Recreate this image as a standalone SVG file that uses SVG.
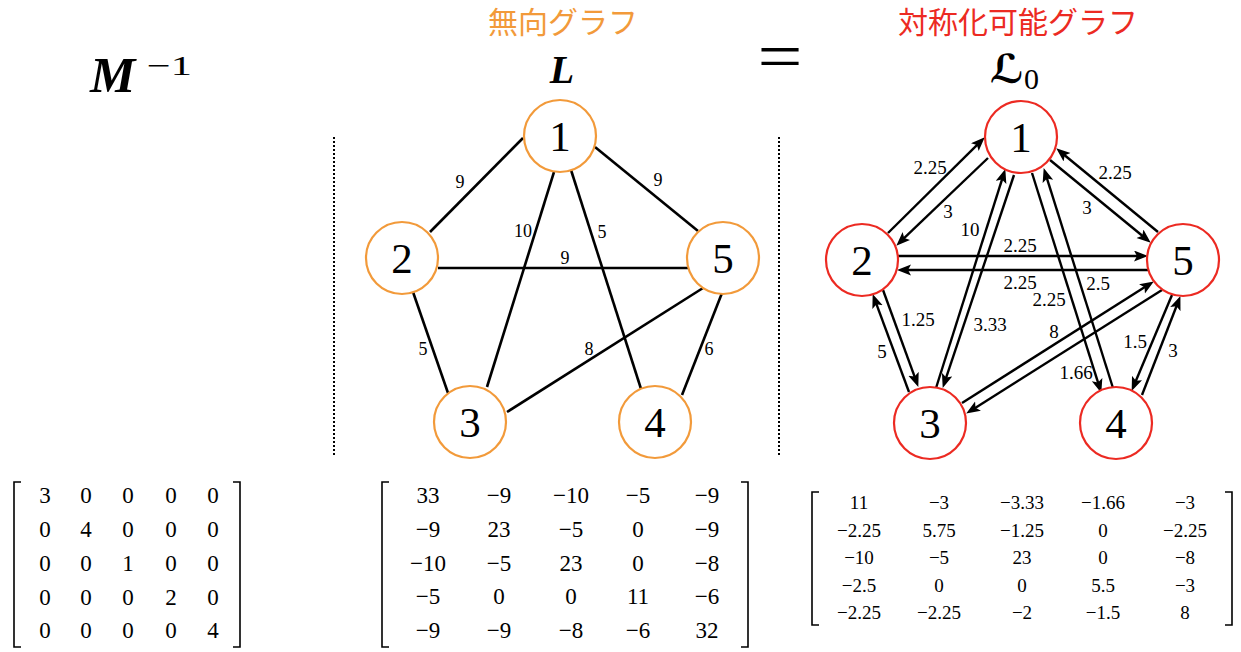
<svg xmlns="http://www.w3.org/2000/svg" width="1241" height="652" viewBox="0 0 1241 652">
<style>
  .bg{fill:#ffffff}
  .on{fill:#ffffff;stroke:#f29a3a;stroke-width:2.2}
  .rn{fill:#ffffff;stroke:#ec2a22;stroke-width:2.2}
  .nl{font-family:"Liberation Serif",serif;font-size:43px;fill:#000;text-anchor:middle}
  .e{stroke:#000;stroke-width:2.6;fill:none}
  .a{stroke:#000;stroke-width:2.4;fill:none;marker-end:url(#ah)}
  .el{font-family:"Liberation Serif",serif;font-size:18px;fill:#000;text-anchor:middle}
  .al{font-family:"Liberation Serif",serif;font-size:19px;fill:#000;text-anchor:middle}
  .dot{stroke:#000;stroke-width:2;stroke-dasharray:2 2;fill:none}
  .br{stroke:#000;stroke-width:1.6;fill:none}
  .m{font-family:"Liberation Serif",serif;font-size:23px;fill:#000;text-anchor:middle}
  .ms{font-family:"Liberation Serif",serif;font-size:19px;fill:#000;text-anchor:middle}
  .t{font-family:"Liberation Serif",serif;font-weight:bold;font-style:italic;fill:#000}
  .jp{font-family:"Noto Sans CJK JP","Noto Sans CJK SC",sans-serif;font-size:30px;text-anchor:middle}
</style>
<defs>
  <marker id="ah" markerUnits="userSpaceOnUse" markerWidth="15" markerHeight="12" refX="9" refY="5.5" orient="auto">
    <path d="M0,0 L14,5.5 L0,11 L3,5.5 z" fill="#000"/>
  </marker>
</defs>
<rect class="bg" x="0" y="0" width="1241" height="652"/>

<!-- titles -->
<g id="titles">
  <text class="t" x="90" y="92" font-size="51">M</text>
  <text x="147" y="75" font-family="Liberation Serif,serif" font-size="28" textLength="45" lengthAdjust="spacingAndGlyphs">−1</text>
  <text class="jp" x="563" y="33" fill="#f29a3a">無向グラフ</text>
  <text class="t" x="562" y="83" font-size="40" text-anchor="middle">L</text>
  <text x="780" y="79" font-family="Liberation Serif,serif" font-size="68" text-anchor="middle" textLength="45" lengthAdjust="spacingAndGlyphs">=</text>
  <text class="jp" x="1018" y="33" fill="#ec2a22">対称化可能グラフ</text>
  <text x="1007" y="83" font-family="DejaVu Serif,DejaVu Sans,serif" font-weight="bold" font-style="italic" font-size="40" text-anchor="middle">ℒ</text>
  <text x="1024" y="89" font-family="Liberation Serif,serif" font-size="30">0</text>
</g>

<!-- separators -->
<g id="separators">
  <line class="dot" x1="334" y1="137" x2="334" y2="456"/>
  <line class="dot" x1="779" y1="137" x2="779" y2="456"/>
</g>

<!-- undirected graph edges -->
<g id="connectors-L">
  <line class="e" x1="523" y1="138" x2="430" y2="232"/>
  <line class="e" x1="595" y1="147" x2="698" y2="231"/>
  <line class="e" x1="554" y1="172" x2="487" y2="387"/>
  <line class="e" x1="571" y1="170" x2="642" y2="392"/>
  <line class="e" x1="438" y1="268" x2="688" y2="268"/>
  <line class="e" x1="413" y1="292" x2="448" y2="393"/>
  <line class="e" x1="722" y1="293" x2="682" y2="395"/>
  <line class="e" x1="507" y1="412" x2="703" y2="288"/>
  <text class="el" x="460" y="188">9</text>
  <text class="el" x="658" y="186">9</text>
  <text class="el" x="523" y="237">10</text>
  <text class="el" x="602" y="238">5</text>
  <text class="el" x="565" y="264">9</text>
  <text class="el" x="423" y="355">5</text>
  <text class="el" x="589" y="355">8</text>
  <text class="el" x="709" y="355">6</text>
</g>

<g id="L-node1"><circle class="on" cx="560" cy="136" r="36"/><text class="nl" x="560" y="151">1</text></g>
<g id="L-node2"><circle class="on" cx="402" cy="258" r="36"/><text class="nl" x="402" y="273">2</text></g>
<g id="L-node3"><circle class="on" cx="470" cy="422" r="36"/><text class="nl" x="470" y="437">3</text></g>
<g id="L-node4"><circle class="on" cx="655" cy="422" r="36"/><text class="nl" x="655" y="437">4</text></g>
<g id="L-node5"><circle class="on" cx="723" cy="258" r="36"/><text class="nl" x="723" y="273">5</text></g>

<!-- directed graph arrows -->
<g id="connectors-L0">
  <line class="a" x1="888" y1="233" x2="981.2" y2="140.8"/>
  <line class="a" x1="988" y1="158" x2="899.9" y2="242.2"/>
  <line class="a" x1="1158" y1="232" x2="1060.1" y2="151.5"/>
  <line class="a" x1="1050" y1="160" x2="1146.9" y2="239.5"/>
  <line class="a" x1="898" y1="256" x2="1143" y2="256"/>
  <line class="a" x1="1148" y1="270" x2="902" y2="270"/>
  <line class="a" x1="936" y1="388" x2="1003.8" y2="173.8"/>
  <line class="a" x1="1014" y1="175" x2="944.3" y2="383.2"/>
  <line class="a" x1="1032" y1="173" x2="1099.8" y2="388.2"/>
  <line class="a" x1="1113" y1="388" x2="1045.2" y2="172.8"/>
  <line class="a" x1="909" y1="392" x2="874.4" y2="298.7"/>
  <line class="a" x1="883" y1="290" x2="916.6" y2="382.2"/>
  <line class="a" x1="962" y1="403" x2="1149.6" y2="284.1"/>
  <line class="a" x1="1162" y1="290" x2="970.4" y2="410.9"/>
  <line class="a" x1="1172" y1="295" x2="1133.6" y2="386.3"/>
  <line class="a" x1="1142" y1="395" x2="1178.6" y2="300.7"/>
  <text class="al" x="930" y="174">2.25</text>
  <text class="al" x="948" y="218">3</text>
  <text class="al" x="1115" y="179">2.25</text>
  <text class="al" x="1087" y="214">3</text>
  <text class="al" x="970" y="236">10</text>
  <text class="al" x="1020" y="252">2.25</text>
  <text class="al" x="1020" y="289">2.25</text>
  <text class="al" x="1098" y="290">2.5</text>
  <text class="al" x="1049" y="306">2.25</text>
  <text class="al" x="918" y="326">1.25</text>
  <text class="al" x="990" y="331">3.33</text>
  <text class="al" x="1054" y="338">8</text>
  <text class="al" x="882" y="358">5</text>
  <text class="al" x="1135" y="348">1.5</text>
  <text class="al" x="1173" y="357">3</text>
  <text class="al" x="1076" y="379">1.66</text>
</g>

<g id="L0-node1"><circle class="rn" cx="1021" cy="137" r="36"/><text class="nl" x="1021" y="152">1</text></g>
<g id="L0-node2"><circle class="rn" cx="862" cy="260" r="36"/><text class="nl" x="862" y="275">2</text></g>
<g id="L0-node3"><circle class="rn" cx="930" cy="423" r="36"/><text class="nl" x="930" y="438">3</text></g>
<g id="L0-node4"><circle class="rn" cx="1116" cy="423" r="36"/><text class="nl" x="1116" y="438">4</text></g>
<g id="L0-node5"><circle class="rn" cx="1183" cy="260" r="36"/><text class="nl" x="1183" y="275">5</text></g>

<!-- matrix M^-1 -->
<g id="matrix-M">
  <path class="br" d="M21,482 H14 V647 H21"/>
  <path class="br" d="M233,482 H240 V647 H233"/>
  <g class="m">
    <text x="45" y="503">3</text><text x="86" y="503">0</text><text x="128" y="503">0</text><text x="171" y="503">0</text><text x="213" y="503">0</text>
    <text x="45" y="537">0</text><text x="86" y="537">4</text><text x="128" y="537">0</text><text x="171" y="537">0</text><text x="213" y="537">0</text>
    <text x="45" y="571">0</text><text x="86" y="571">0</text><text x="128" y="571">1</text><text x="171" y="571">0</text><text x="213" y="571">0</text>
    <text x="45" y="605">0</text><text x="86" y="605">0</text><text x="128" y="605">0</text><text x="171" y="605">2</text><text x="213" y="605">0</text>
    <text x="45" y="638">0</text><text x="86" y="638">0</text><text x="128" y="638">0</text><text x="171" y="638">0</text><text x="213" y="638">4</text>
  </g>
</g>

<!-- matrix L -->
<g id="matrix-L">
  <path class="br" d="M389,482 H382 V647 H389"/>
  <path class="br" d="M741,482 H748 V647 H741"/>
  <g class="m">
    <text x="428" y="503">33</text><text x="499" y="503">−9</text><text x="571" y="503">−10</text><text x="638" y="503">−5</text><text x="707" y="503">−9</text>
    <text x="428" y="537">−9</text><text x="499" y="537">23</text><text x="571" y="537">−5</text><text x="638" y="537">0</text><text x="707" y="537">−9</text>
    <text x="428" y="571">−10</text><text x="499" y="571">−5</text><text x="571" y="571">23</text><text x="638" y="571">0</text><text x="707" y="571">−8</text>
    <text x="428" y="604">−5</text><text x="499" y="604">0</text><text x="571" y="604">0</text><text x="638" y="604">11</text><text x="707" y="604">−6</text>
    <text x="428" y="638">−9</text><text x="499" y="638">−9</text><text x="571" y="638">−8</text><text x="638" y="638">−6</text><text x="707" y="638">32</text>
  </g>
</g>

<!-- matrix L0 -->
<g id="matrix-L0">
  <path class="br" d="M819,492 H812 V625 H819"/>
  <path class="br" d="M1225,492 H1232 V625 H1225"/>
  <g class="ms">
    <text x="859" y="509">11</text><text x="939" y="509">−3</text><text x="1022" y="509">−3.33</text><text x="1103" y="509">−1.66</text><text x="1185" y="509">−3</text>
    <text x="859" y="537">−2.25</text><text x="939" y="537">5.75</text><text x="1022" y="537">−1.25</text><text x="1103" y="537">0</text><text x="1185" y="537">−2.25</text>
    <text x="859" y="564">−10</text><text x="939" y="564">−5</text><text x="1022" y="564">23</text><text x="1103" y="564">0</text><text x="1185" y="564">−8</text>
    <text x="859" y="592">−2.5</text><text x="939" y="592">0</text><text x="1022" y="592">0</text><text x="1103" y="592">5.5</text><text x="1185" y="592">−3</text>
    <text x="859" y="619">−2.25</text><text x="939" y="619">−2.25</text><text x="1022" y="619">−2</text><text x="1103" y="619">−1.5</text><text x="1185" y="619">8</text>
  </g>
</g>
</svg>
